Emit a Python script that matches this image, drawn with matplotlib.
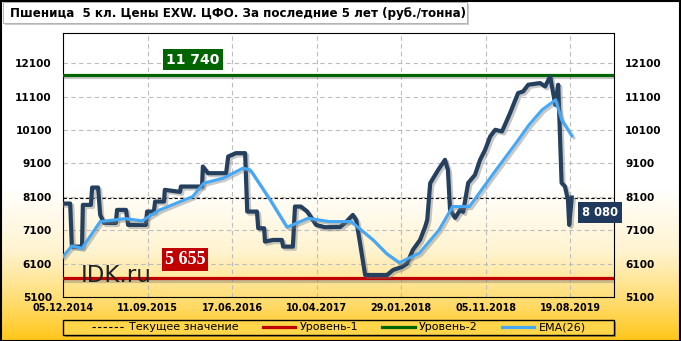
import numpy as np
import matplotlib
matplotlib.use("Agg")
import matplotlib.pyplot as plt
import matplotlib.patheffects as pe
from matplotlib.patches import Rectangle
from matplotlib.colors import LinearSegmentedColormap

# x is the trading-day number on a category axis (labels every 200 points)
tick_pos = [0, 200, 400, 600, 800, 1000, 1200]
tick_labels = ['05.12.2014', '11.09.2015', '17.06.2016', '10.04.2017',
               '29.01.2018', '05.11.2018', '19.08.2019']

price_x = [0, 17, 21, 45, 47, 66, 69, 83, 88, 97, 125, 128, 149, 154, 196, 199,
           215, 218, 239, 241, 277, 279, 329, 331, 343, 386, 391, 409, 431, 436,
           459, 462, 476, 478, 497, 518, 521, 544, 549, 563, 578, 599, 620, 656,
           670, 686, 694, 703, 715, 746, 767, 781, 802, 814, 828, 845, 857, 862,
           869, 888, 904, 911, 916, 928, 940, 947, 959, 975, 987, 999, 1011, 1023,
           1039, 1058, 1077, 1089, 1101, 1129, 1141, 1153, 1165, 1172, 1180, 1188,
           1195, 1198, 1204]
price_y = [7900, 7900, 6610, 6610, 7860, 7860, 8380, 8380, 7560, 7320, 7320, 7710,
           7710, 7260, 7260, 7660, 7660, 7960, 7960, 8310, 8250, 8410, 8410, 9010,
           8810, 8810, 9310, 9410, 9410, 7660, 7660, 7160, 7160, 6760, 6810, 6810,
           6610, 6610, 7810, 7810, 7660, 7260, 7190, 7200, 7350, 7560, 7400, 6710,
           5760, 5760, 5760, 5910, 6000, 6100, 6510, 6810, 7200, 7410, 8510, 8910,
           9210, 8900, 7710, 7470, 7710, 7650, 8520, 8760, 9210, 9510, 9910, 10110,
           10060, 10610, 11210, 11260, 11460, 11510, 11410, 11710, 10860, 11460,
           8520, 8410, 8010, 7260, 8080]

ema_x = [0, 21, 45, 88, 149, 187, 229, 307, 333, 379, 426, 443, 490, 530, 580,
         630, 682, 734, 765, 796, 843, 890, 922, 962, 1025, 1072, 1103,
         1134, 1166, 1180, 1204]
ema_y = [6310, 6630, 6560, 7360, 7450, 7380, 7710, 8110, 8510, 8660, 8960, 8910,
         8010, 7190, 7460, 7360, 7360, 6810, 6410, 6130, 6410, 7110, 7810, 7810,
         8910, 9710, 10260, 10710, 11010, 10410, 9930]

current = 8080
level1 = 5655
level2 = 11740

W, H = 681, 341
fig = plt.figure(figsize=(W / 100, H / 100), dpi=100)

# background gradient
bg = fig.add_axes([0, 0, 1, 1], zorder=-10)
cmap = LinearSegmentedColormap.from_list('bg', [(0, '#ffffff'), (0.55, '#ffffff'),
                                                (0.74, '#fff3cf'), (0.87, '#ffdf7a'),
                                                (1.0, '#ffc61a')])
bg.imshow(np.linspace(0, 1, 256).reshape(-1, 1), aspect='auto', cmap=cmap,
          extent=[0, 1, 0, 1], origin='upper')
bg.set_axis_off()

ax = fig.add_axes([63 / W, 1 - 297 / H, (614 - 63) / W, (297 - 33) / H])
ax.patch.set_alpha(0)
ax.set_xlim(0, 1304)
ax.set_ylim(5100, 13010)

ax.set_yticks(np.arange(5100, 12101, 1000))
ax.set_xticks(tick_pos)
ax.set_xticklabels(tick_labels)
ax.grid(True, color='#bdbdbd', linestyle=(0, (4, 3)), linewidth=0.8)
ax.tick_params(length=0)
ax.tick_params(axis='y', labelsize=7.6, pad=8, labelright=True, right=False)
ax.tick_params(axis='x', labelsize=6.9, pad=4)
for t in ax.get_xticklabels() + ax.yaxis.get_majorticklabels():
    t.set_fontweight('bold')
for t in ax.yaxis.get_ticklabels(which='major'):
    t.set_fontweight('bold')
for tk in ax.yaxis.get_major_ticks():
    tk.label2.set_fontweight('bold')

shadow = [pe.SimpleLineShadow(offset=(1.5, -1.5), shadow_color='#777777', alpha=0.4), pe.Normal()]

ax.axhline(current, color='black', linestyle=(0, (3, 2)), linewidth=0.8, zorder=2)
ax.axhline(level1, color='#c00000', linewidth=2.3, zorder=3, path_effects=shadow)
ax.axhline(level2, color='#006400', linewidth=2.3, zorder=3, path_effects=shadow)
ax.plot(price_x, price_y, color='#25405f', linewidth=3, solid_joinstyle='round',
        zorder=4, path_effects=shadow)
ax.plot(ema_x, ema_y, color='#45a8f5', linewidth=2.2, zorder=5, path_effects=shadow)

ax.text(308, 12210, '11 740', color='white', fontsize=10, fontweight='bold',
        ha='center', va='center', zorder=6,
        bbox=dict(boxstyle='square,pad=0.25', fc='#006400', ec='none'))
ax.text(289, 6220, '5 655', color='white', fontsize=13, fontweight='bold',
        family='Liberation Serif', ha='center', va='center', zorder=6,
        bbox=dict(boxstyle='square,pad=0.15', fc='#c00000', ec='none'))
ax.text((600 - 63) / 551, current - 460, '8 080', color='white', fontsize=8.3,
        fontweight='bold', ha='center', va='center', zorder=6,
        transform=ax.get_yaxis_transform(), clip_on=False,
        bbox=dict(boxstyle='square,pad=0.35', fc='#1f3a5c', ec='none'))
ax.text(42, 5560, 'IDK.ru', fontsize=16.5, color='#222222', ha='left', va='baseline',
        zorder=6)

# title box
fig.patches.append(Rectangle((5 / W, 1 - 25 / H), 464 / W, 21 / H, transform=fig.transFigure,
                             fc='#999999', ec='none', alpha=0.5, zorder=1))
fig.patches.append(Rectangle((3 / W, 1 - 23 / H), 464 / W, 21 / H, transform=fig.transFigure,
                             fc='white', ec='#aaaaaa', lw=0.6, zorder=2))
fig.text(10 / W, 1 - 13 / H, 'Пшеница  5 кл. Цены EXW. ЦФО. За последние 5 лет (руб./тонна)',
         fontsize=8.55, fontweight='bold', ha='left', va='center', zorder=3)

# legend box
fig.patches.append(Rectangle((65 / W, 1 - 337 / H), 551 / W, 15 / H, transform=fig.transFigure,
                             fc='#555555', ec='none', alpha=0.5, zorder=1))
fig.patches.append(Rectangle((63 / W, 1 - 335 / H), 551 / W, 15 / H, transform=fig.transFigure,
                             fc='#ffd54a', ec='black', lw=1.0, zorder=2))
handles = [plt.Line2D([], [], color='black', linestyle=(0, (3, 2)), linewidth=0.8),
           plt.Line2D([], [], color='#c00000', linewidth=2.3),
           plt.Line2D([], [], color='#006400', linewidth=2.3),
           plt.Line2D([], [], color='#45a8f5', linewidth=2.3)]
names = ['Текущее значение', 'Уровень-1', 'Уровень-2', 'EMA(26)']
leg = fig.legend(handles, names, loc='center', bbox_to_anchor=(339 / W, 1 - 327.5 / H),
                 ncol=4, frameon=False, fontsize=8, handlelength=2.9,
                 handletextpad=0.4, columnspacing=2.2, borderpad=0)
leg.set_zorder(3)

# outer border
fig.patches.append(Rectangle((0.5 / W, 0.5 / H), 1 - 1.5 / W, 1 - 1.5 / H,
                             transform=fig.transFigure, fc='none', ec='black', lw=1.5, zorder=5))

fig.savefig('out.png', dpi=100)
